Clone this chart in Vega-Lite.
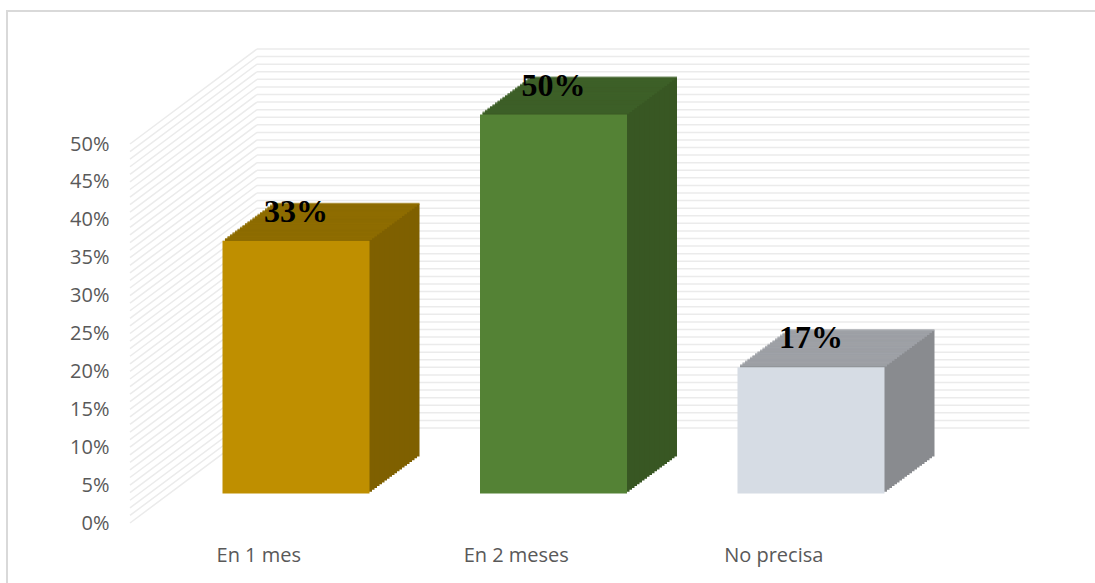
{
"$schema": "https://vega.github.io/schema/vega-lite/v6.json",
"width": 772.5, "height": 379,
"autosize": "none",
"padding": {"left": 130, "top": 144, "right": 192.5, "bottom": 60},
"background": "white",
"config": {"view": {"stroke": null}, "scale": {"bandPaddingInner": 0, "bandPaddingOuter": 0}},
"data": {"values": [{"cat": "En 1 mes", "value": 0.3333}, {"cat": "En 2 meses", "value": 0.5}, {"cat": "No precisa", "value": 0.1667}]},
"datasets": {"grid": [{"v":0},{"v":0.01},{"v":0.02},{"v":0.03},{"v":0.04},{"v":0.05},{"v":0.06},{"v":0.07},{"v":0.08},{"v":0.09},{"v":0.1},{"v":0.11},{"v":0.12},{"v":0.13},{"v":0.14},{"v":0.15},{"v":0.16},{"v":0.17},{"v":0.18},{"v":0.19},{"v":0.2},{"v":0.21},{"v":0.22},{"v":0.23},{"v":0.24},{"v":0.25},{"v":0.26},{"v":0.27},{"v":0.28},{"v":0.29},{"v":0.3},{"v":0.31},{"v":0.32},{"v":0.33},{"v":0.34},{"v":0.35},{"v":0.36},{"v":0.37},{"v":0.38},{"v":0.39},{"v":0.4},{"v":0.41},{"v":0.42},{"v":0.43},{"v":0.44},{"v":0.45},{"v":0.46},{"v":0.47},{"v":0.48},{"v":0.49},{"v":0.5}]},
"resolve": {"scale": {"color": "independent"}, "axis": {"x": "independent", "y": "independent"}},
"layer": [
{"data": {"values": [{}]}, "mark": {"type": "rect", "fill": "transparent", "stroke": "#d9d9d9", "strokeWidth": 2, "xOffset": -123, "x2Offset": 197.5, "yOffset": 67, "y2Offset": -133},
 "encoding": {"x": {"datum": "En 1 mes", "type": "nominal", "bandPosition": 0, "axis": null}, "x2": {"datum": "No precisa", "bandPosition": 1}, "y": {"datum": 0, "type": "quantitative", "axis": null}, "y2": {"datum": 0.5}}},
{"data": {"name": "grid"}, "mark": {"type": "rule", "color": "#ebebeb", "strokeWidth": 1.5, "x2Offset": 127, "y2Offset": -95},
 "encoding": {"x": {"datum": "En 1 mes", "type": "nominal", "bandPosition": 0, "axis": null}, "x2": {"datum": "En 1 mes", "bandPosition": 0}, "y": {"field": "v", "type": "quantitative", "axis": null}, "y2": {"field": "v"}}},
{"data": {"name": "grid"}, "mark": {"type": "rule", "color": "#ebebeb", "strokeWidth": 1.5, "xOffset": 127, "x2Offset": 127, "yOffset": -95, "y2Offset": -95},
 "encoding": {"x": {"datum": "En 1 mes", "type": "nominal", "bandPosition": 0, "axis": null}, "x2": {"datum": "No precisa", "bandPosition": 1}, "y": {"field": "v", "type": "quantitative", "axis": null}, "y2": {"field": "v"}}},
{"mark": {"type": "bar", "width": 147, "xOffset": 87.25, "yOffset": -66.5, "y2Offset": -66.5}, "encoding": {"x": {"field": "cat", "type": "nominal", "axis": null}, "y": {"field": "value", "type": "quantitative", "axis": null}, "color": {"field": "cat", "type": "nominal", "legend": null, "scale": {"range": ["#7F6000", "#385723", "#898B8F"]}}}},
{"mark": {"type": "bar", "width": 147, "xOffset": 84.75, "yOffset": -64.65, "y2Offset": -64.65}, "encoding": {"x": {"field": "cat", "type": "nominal", "axis": null}, "y": {"field": "value", "type": "quantitative", "axis": null}, "color": {"field": "cat", "type": "nominal", "legend": null, "scale": {"range": ["#7F6000", "#385723", "#898B8F"]}}}},
{"mark": {"type": "bar", "width": 147, "xOffset": 82.25, "yOffset": -62.8, "y2Offset": -62.8}, "encoding": {"x": {"field": "cat", "type": "nominal", "axis": null}, "y": {"field": "value", "type": "quantitative", "axis": null}, "color": {"field": "cat", "type": "nominal", "legend": null, "scale": {"range": ["#7F6000", "#385723", "#898B8F"]}}}},
{"mark": {"type": "bar", "width": 147, "xOffset": 79.75, "yOffset": -60.95, "y2Offset": -60.95}, "encoding": {"x": {"field": "cat", "type": "nominal", "axis": null}, "y": {"field": "value", "type": "quantitative", "axis": null}, "color": {"field": "cat", "type": "nominal", "legend": null, "scale": {"range": ["#7F6000", "#385723", "#898B8F"]}}}},
{"mark": {"type": "bar", "width": 147, "xOffset": 77.25, "yOffset": -59.1, "y2Offset": -59.1}, "encoding": {"x": {"field": "cat", "type": "nominal", "axis": null}, "y": {"field": "value", "type": "quantitative", "axis": null}, "color": {"field": "cat", "type": "nominal", "legend": null, "scale": {"range": ["#7F6000", "#385723", "#898B8F"]}}}},
{"mark": {"type": "bar", "width": 147, "xOffset": 74.75, "yOffset": -57.25, "y2Offset": -57.25}, "encoding": {"x": {"field": "cat", "type": "nominal", "axis": null}, "y": {"field": "value", "type": "quantitative", "axis": null}, "color": {"field": "cat", "type": "nominal", "legend": null, "scale": {"range": ["#7F6000", "#385723", "#898B8F"]}}}},
{"mark": {"type": "bar", "width": 147, "xOffset": 72.25, "yOffset": -55.4, "y2Offset": -55.4}, "encoding": {"x": {"field": "cat", "type": "nominal", "axis": null}, "y": {"field": "value", "type": "quantitative", "axis": null}, "color": {"field": "cat", "type": "nominal", "legend": null, "scale": {"range": ["#7F6000", "#385723", "#898B8F"]}}}},
{"mark": {"type": "bar", "width": 147, "xOffset": 69.75, "yOffset": -53.55, "y2Offset": -53.55}, "encoding": {"x": {"field": "cat", "type": "nominal", "axis": null}, "y": {"field": "value", "type": "quantitative", "axis": null}, "color": {"field": "cat", "type": "nominal", "legend": null, "scale": {"range": ["#7F6000", "#385723", "#898B8F"]}}}},
{"mark": {"type": "bar", "width": 147, "xOffset": 67.25, "yOffset": -51.7, "y2Offset": -51.7}, "encoding": {"x": {"field": "cat", "type": "nominal", "axis": null}, "y": {"field": "value", "type": "quantitative", "axis": null}, "color": {"field": "cat", "type": "nominal", "legend": null, "scale": {"range": ["#7F6000", "#385723", "#898B8F"]}}}},
{"mark": {"type": "bar", "width": 147, "xOffset": 64.75, "yOffset": -49.85, "y2Offset": -49.85}, "encoding": {"x": {"field": "cat", "type": "nominal", "axis": null}, "y": {"field": "value", "type": "quantitative", "axis": null}, "color": {"field": "cat", "type": "nominal", "legend": null, "scale": {"range": ["#7F6000", "#385723", "#898B8F"]}}}},
{"mark": {"type": "bar", "width": 147, "xOffset": 62.25, "yOffset": -48, "y2Offset": -48}, "encoding": {"x": {"field": "cat", "type": "nominal", "axis": null}, "y": {"field": "value", "type": "quantitative", "axis": null}, "color": {"field": "cat", "type": "nominal", "legend": null, "scale": {"range": ["#7F6000", "#385723", "#898B8F"]}}}},
{"mark": {"type": "bar", "width": 147, "xOffset": 59.75, "yOffset": -46.15, "y2Offset": -46.15}, "encoding": {"x": {"field": "cat", "type": "nominal", "axis": null}, "y": {"field": "value", "type": "quantitative", "axis": null}, "color": {"field": "cat", "type": "nominal", "legend": null, "scale": {"range": ["#7F6000", "#385723", "#898B8F"]}}}},
{"mark": {"type": "bar", "width": 147, "xOffset": 57.25, "yOffset": -44.3, "y2Offset": -44.3}, "encoding": {"x": {"field": "cat", "type": "nominal", "axis": null}, "y": {"field": "value", "type": "quantitative", "axis": null}, "color": {"field": "cat", "type": "nominal", "legend": null, "scale": {"range": ["#7F6000", "#385723", "#898B8F"]}}}},
{"mark": {"type": "bar", "width": 147, "xOffset": 54.75, "yOffset": -42.45, "y2Offset": -42.45}, "encoding": {"x": {"field": "cat", "type": "nominal", "axis": null}, "y": {"field": "value", "type": "quantitative", "axis": null}, "color": {"field": "cat", "type": "nominal", "legend": null, "scale": {"range": ["#7F6000", "#385723", "#898B8F"]}}}},
{"mark": {"type": "bar", "width": 147, "xOffset": 52.25, "yOffset": -40.6, "y2Offset": -40.6}, "encoding": {"x": {"field": "cat", "type": "nominal", "axis": null}, "y": {"field": "value", "type": "quantitative", "axis": null}, "color": {"field": "cat", "type": "nominal", "legend": null, "scale": {"range": ["#7F6000", "#385723", "#898B8F"]}}}},
{"mark": {"type": "bar", "width": 147, "xOffset": 49.75, "yOffset": -38.75, "y2Offset": -38.75}, "encoding": {"x": {"field": "cat", "type": "nominal", "axis": null}, "y": {"field": "value", "type": "quantitative", "axis": null}, "color": {"field": "cat", "type": "nominal", "legend": null, "scale": {"range": ["#7F6000", "#385723", "#898B8F"]}}}},
{"mark": {"type": "bar", "width": 147, "xOffset": 47.25, "yOffset": -36.9, "y2Offset": -36.9}, "encoding": {"x": {"field": "cat", "type": "nominal", "axis": null}, "y": {"field": "value", "type": "quantitative", "axis": null}, "color": {"field": "cat", "type": "nominal", "legend": null, "scale": {"range": ["#7F6000", "#385723", "#898B8F"]}}}},
{"mark": {"type": "bar", "width": 147, "xOffset": 44.75, "yOffset": -35.05, "y2Offset": -35.05}, "encoding": {"x": {"field": "cat", "type": "nominal", "axis": null}, "y": {"field": "value", "type": "quantitative", "axis": null}, "color": {"field": "cat", "type": "nominal", "legend": null, "scale": {"range": ["#7F6000", "#385723", "#898B8F"]}}}},
{"mark": {"type": "bar", "width": 147, "xOffset": 42.25, "yOffset": -33.2, "y2Offset": -33.2}, "encoding": {"x": {"field": "cat", "type": "nominal", "axis": null}, "y": {"field": "value", "type": "quantitative", "axis": null}, "color": {"field": "cat", "type": "nominal", "legend": null, "scale": {"range": ["#7F6000", "#385723", "#898B8F"]}}}},
{"mark": {"type": "bar", "width": 147, "xOffset": 39.75, "yOffset": -31.35, "y2Offset": -31.35}, "encoding": {"x": {"field": "cat", "type": "nominal", "axis": null}, "y": {"field": "value", "type": "quantitative", "axis": null}, "color": {"field": "cat", "type": "nominal", "legend": null, "scale": {"range": ["#7F6000", "#385723", "#898B8F"]}}}},
{"mark": {"type": "tick", "size": 147, "thickness": 2.2, "xOffset": 87.25, "yOffset": -66.5}, "encoding": {"x": {"field": "cat", "type": "nominal", "axis": null}, "y": {"field": "value", "type": "quantitative", "axis": null}, "color": {"field": "cat", "type": "nominal", "legend": null, "scale": {"range": ["#937000", "#3F6229", "#A5A8AE"]}}}},
{"mark": {"type": "tick", "size": 147, "thickness": 2.2, "xOffset": 84.75, "yOffset": -64.65}, "encoding": {"x": {"field": "cat", "type": "nominal", "axis": null}, "y": {"field": "value", "type": "quantitative", "axis": null}, "color": {"field": "cat", "type": "nominal", "legend": null, "scale": {"range": ["#937000", "#3F6229", "#A5A8AE"]}}}},
{"mark": {"type": "tick", "size": 147, "thickness": 2.2, "xOffset": 82.25, "yOffset": -62.8}, "encoding": {"x": {"field": "cat", "type": "nominal", "axis": null}, "y": {"field": "value", "type": "quantitative", "axis": null}, "color": {"field": "cat", "type": "nominal", "legend": null, "scale": {"range": ["#937000", "#3F6229", "#A5A8AE"]}}}},
{"mark": {"type": "tick", "size": 147, "thickness": 2.2, "xOffset": 79.75, "yOffset": -60.95}, "encoding": {"x": {"field": "cat", "type": "nominal", "axis": null}, "y": {"field": "value", "type": "quantitative", "axis": null}, "color": {"field": "cat", "type": "nominal", "legend": null, "scale": {"range": ["#937000", "#3F6229", "#A5A8AE"]}}}},
{"mark": {"type": "tick", "size": 147, "thickness": 2.2, "xOffset": 77.25, "yOffset": -59.1}, "encoding": {"x": {"field": "cat", "type": "nominal", "axis": null}, "y": {"field": "value", "type": "quantitative", "axis": null}, "color": {"field": "cat", "type": "nominal", "legend": null, "scale": {"range": ["#937000", "#3F6229", "#A5A8AE"]}}}},
{"mark": {"type": "tick", "size": 147, "thickness": 2.2, "xOffset": 74.75, "yOffset": -57.25}, "encoding": {"x": {"field": "cat", "type": "nominal", "axis": null}, "y": {"field": "value", "type": "quantitative", "axis": null}, "color": {"field": "cat", "type": "nominal", "legend": null, "scale": {"range": ["#937000", "#3F6229", "#A5A8AE"]}}}},
{"mark": {"type": "tick", "size": 147, "thickness": 2.2, "xOffset": 72.25, "yOffset": -55.4}, "encoding": {"x": {"field": "cat", "type": "nominal", "axis": null}, "y": {"field": "value", "type": "quantitative", "axis": null}, "color": {"field": "cat", "type": "nominal", "legend": null, "scale": {"range": ["#937000", "#3F6229", "#A5A8AE"]}}}},
{"mark": {"type": "tick", "size": 147, "thickness": 2.2, "xOffset": 69.75, "yOffset": -53.55}, "encoding": {"x": {"field": "cat", "type": "nominal", "axis": null}, "y": {"field": "value", "type": "quantitative", "axis": null}, "color": {"field": "cat", "type": "nominal", "legend": null, "scale": {"range": ["#937000", "#3F6229", "#A5A8AE"]}}}},
{"mark": {"type": "tick", "size": 147, "thickness": 2.2, "xOffset": 67.25, "yOffset": -51.7}, "encoding": {"x": {"field": "cat", "type": "nominal", "axis": null}, "y": {"field": "value", "type": "quantitative", "axis": null}, "color": {"field": "cat", "type": "nominal", "legend": null, "scale": {"range": ["#937000", "#3F6229", "#A5A8AE"]}}}},
{"mark": {"type": "tick", "size": 147, "thickness": 2.2, "xOffset": 64.75, "yOffset": -49.85}, "encoding": {"x": {"field": "cat", "type": "nominal", "axis": null}, "y": {"field": "value", "type": "quantitative", "axis": null}, "color": {"field": "cat", "type": "nominal", "legend": null, "scale": {"range": ["#937000", "#3F6229", "#A5A8AE"]}}}},
{"mark": {"type": "tick", "size": 147, "thickness": 2.2, "xOffset": 62.25, "yOffset": -48}, "encoding": {"x": {"field": "cat", "type": "nominal", "axis": null}, "y": {"field": "value", "type": "quantitative", "axis": null}, "color": {"field": "cat", "type": "nominal", "legend": null, "scale": {"range": ["#937000", "#3F6229", "#A5A8AE"]}}}},
{"mark": {"type": "tick", "size": 147, "thickness": 2.2, "xOffset": 59.75, "yOffset": -46.15}, "encoding": {"x": {"field": "cat", "type": "nominal", "axis": null}, "y": {"field": "value", "type": "quantitative", "axis": null}, "color": {"field": "cat", "type": "nominal", "legend": null, "scale": {"range": ["#937000", "#3F6229", "#A5A8AE"]}}}},
{"mark": {"type": "tick", "size": 147, "thickness": 2.2, "xOffset": 57.25, "yOffset": -44.3}, "encoding": {"x": {"field": "cat", "type": "nominal", "axis": null}, "y": {"field": "value", "type": "quantitative", "axis": null}, "color": {"field": "cat", "type": "nominal", "legend": null, "scale": {"range": ["#937000", "#3F6229", "#A5A8AE"]}}}},
{"mark": {"type": "tick", "size": 147, "thickness": 2.2, "xOffset": 54.75, "yOffset": -42.45}, "encoding": {"x": {"field": "cat", "type": "nominal", "axis": null}, "y": {"field": "value", "type": "quantitative", "axis": null}, "color": {"field": "cat", "type": "nominal", "legend": null, "scale": {"range": ["#937000", "#3F6229", "#A5A8AE"]}}}},
{"mark": {"type": "tick", "size": 147, "thickness": 2.2, "xOffset": 52.25, "yOffset": -40.6}, "encoding": {"x": {"field": "cat", "type": "nominal", "axis": null}, "y": {"field": "value", "type": "quantitative", "axis": null}, "color": {"field": "cat", "type": "nominal", "legend": null, "scale": {"range": ["#937000", "#3F6229", "#A5A8AE"]}}}},
{"mark": {"type": "tick", "size": 147, "thickness": 2.2, "xOffset": 49.75, "yOffset": -38.75}, "encoding": {"x": {"field": "cat", "type": "nominal", "axis": null}, "y": {"field": "value", "type": "quantitative", "axis": null}, "color": {"field": "cat", "type": "nominal", "legend": null, "scale": {"range": ["#937000", "#3F6229", "#A5A8AE"]}}}},
{"mark": {"type": "tick", "size": 147, "thickness": 2.2, "xOffset": 47.25, "yOffset": -36.9}, "encoding": {"x": {"field": "cat", "type": "nominal", "axis": null}, "y": {"field": "value", "type": "quantitative", "axis": null}, "color": {"field": "cat", "type": "nominal", "legend": null, "scale": {"range": ["#937000", "#3F6229", "#A5A8AE"]}}}},
{"mark": {"type": "tick", "size": 147, "thickness": 2.2, "xOffset": 44.75, "yOffset": -35.05}, "encoding": {"x": {"field": "cat", "type": "nominal", "axis": null}, "y": {"field": "value", "type": "quantitative", "axis": null}, "color": {"field": "cat", "type": "nominal", "legend": null, "scale": {"range": ["#937000", "#3F6229", "#A5A8AE"]}}}},
{"mark": {"type": "tick", "size": 147, "thickness": 2.2, "xOffset": 42.25, "yOffset": -33.2}, "encoding": {"x": {"field": "cat", "type": "nominal", "axis": null}, "y": {"field": "value", "type": "quantitative", "axis": null}, "color": {"field": "cat", "type": "nominal", "legend": null, "scale": {"range": ["#937000", "#3F6229", "#A5A8AE"]}}}},
{"mark": {"type": "tick", "size": 147, "thickness": 2.2, "xOffset": 39.75, "yOffset": -31.35}, "encoding": {"x": {"field": "cat", "type": "nominal", "axis": null}, "y": {"field": "value", "type": "quantitative", "axis": null}, "color": {"field": "cat", "type": "nominal", "legend": null, "scale": {"range": ["#937000", "#3F6229", "#A5A8AE"]}}}},
{"mark": {"type": "bar", "width": 147, "xOffset": 37.25, "yOffset": -29.5, "y2Offset": -29.5},
 "encoding": {
  "x": {"field": "cat", "type": "nominal", "title": null, "axis": {"labelAngle": 0, "labelFont": "Open Sans", "labelFontSize": 20, "labelColor": "#595959", "domain": false, "ticks": false, "tickSize": 0, "labelPadding": 38, "labelBaseline": "alphabetic", "title": null}},
  "y": {"field": "value", "type": "quantitative", "scale": {"domain": [0, 0.5], "nice": false}, "axis": {"values": [0, 0.05, 0.1, 0.15, 0.2, 0.25, 0.3, 0.35, 0.4, 0.45, 0.5], "format": ".0%", "labelFont": "Open Sans", "labelFontSize": 20, "labelColor": "#595959", "domain": false, "ticks": false, "tickSize": 0, "grid": false, "labelPadding": 21, "title": null}},
  "color": {"field": "cat", "type": "nominal", "legend": null, "scale": {"range": ["#BF8F00", "#548235", "#D6DCE4"]}}}},
{"mark": {"type": "text", "font": "Liberation Serif", "fontWeight": "bold", "fontSize": 32, "color": "#000000", "xOffset": 37.25, "yOffset": -29.5, "dy": -19, "baseline": "alphabetic", "align": "center"},
 "encoding": {"x": {"field": "cat", "type": "nominal", "axis": null}, "y": {"field": "value", "type": "quantitative", "axis": null}, "text": {"field": "value", "type": "quantitative", "format": ".0%"}}}
]
}
